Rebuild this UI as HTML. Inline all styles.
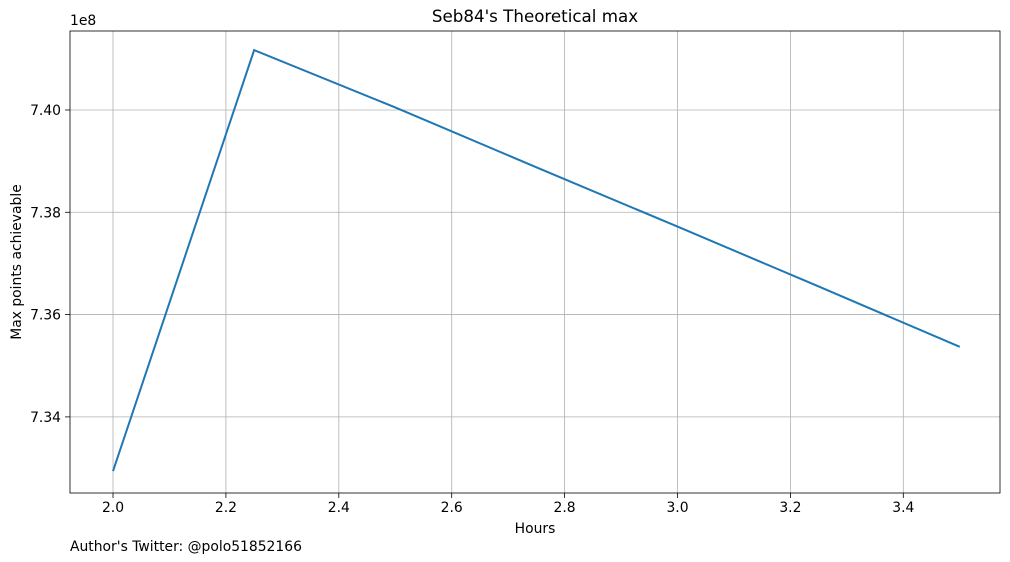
<!DOCTYPE html>
<html><head><meta charset="utf-8"><style>
body{margin:0;background:#fff;}
svg{display:block;font-family:"DejaVu Sans","Liberation Sans",sans-serif;}
</style></head><body>
<svg id="chart" width="1010" height="562"></svg>
<script>
const xValues=[2.0,2.25,2.5,2.75,3.0,3.25,3.5];
const yValues=[7.3294,7.4117,7.4005,7.3888,7.3772,7.3655,7.3537];
const xTicks=[2.0,2.2,2.4,2.6,2.8,3.0,3.2,3.4];
const xTickLabels=["2.0","2.2","2.4","2.6","2.8","3.0","3.2","3.4"];
const yTicks=[7.34,7.36,7.38,7.40];
const yTickLabels=["7.34","7.36","7.38","7.40"];
const L=70,R=1000,T=31,B=493;
const xMin=1.9238,xMax=3.5713,yMin=7.32512,yMax=7.41544;
const sx=v=>L+(v-xMin)/(xMax-xMin)*(R-L);
const sy=v=>B-(v-yMin)/(yMax-yMin)*(B-T);
const svg=document.getElementById('chart');
const NS='http://www.w3.org/2000/svg';
function mk(tag,at,parent){const e=document.createElementNS(NS,tag);for(const k in at)e.setAttribute(k,at[k]);(parent||svg).appendChild(e);return e;}
const grid=mk('g',{});


xTicks.forEach((t,i)=>{const x=sx(t);
 mk('line',{x1:x,x2:x,y1:T,y2:B,stroke:'#b0b0b0','stroke-width':0.8},grid);
 mk('line',{x1:x,x2:x,y1:B,y2:B+5,stroke:'#000','stroke-width':0.8});
 const tx=mk('text',{x:x,y:B+19,'font-size':13.9,'text-anchor':'middle',fill:'#000'});
 
 
 tx.textContent=xTickLabels[i];});
yTicks.forEach((t,i)=>{const y=sy(t);
 mk('line',{x1:L,x2:R,y1:y,y2:y,stroke:'#b0b0b0','stroke-width':0.8},grid);
 mk('line',{x1:L-5,x2:L,y1:y,y2:y,stroke:'#000','stroke-width':0.8});
 const tx=mk('text',{x:L-9,y:y+5,'font-size':13.9,'text-anchor':'end',fill:'#000'});
 
 
 tx.textContent=yTickLabels[i];});
const pts=xValues.map((x,i)=>sx(x)+','+sy(yValues[i])).join(' ');
const line=mk('polyline',{points:pts,fill:'none',stroke:'#1f77b4','stroke-width':2});


const frame=mk('rect',{x:L,y:T,width:R-L,height:B-T,fill:'none',stroke:'#000','stroke-width':0.8});


function txt(name,at,s){const e=mk('text',at);e.textContent=s;return e;}
txt('chart-title',{x:535,y:22,'font-size':16.7,'text-anchor':'middle'},"Seb84's Theoretical max");
txt('x-axis-title',{x:535,y:533,'font-size':13.9,'text-anchor':'middle'},"Hours");
txt('y-axis-title',{x:21,y:262,'font-size':13.9,'text-anchor':'middle',transform:'rotate(-90 21 262)'},"Max points achievable");
txt('y-offset-label',{x:70,y:25,'font-size':13.9},"1e8");
txt('author-credit',{x:70,y:551,'font-size':13.9},"Author's Twitter: @polo51852166");
</script>
</body></html>
